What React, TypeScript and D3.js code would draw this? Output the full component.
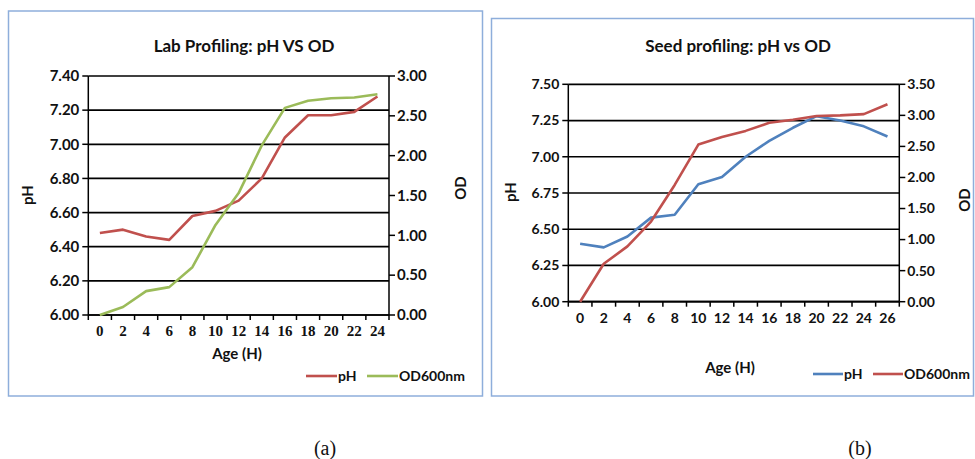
import React from "react";
import * as d3 from "d3";

// ---- Chart (a): Lab Profiling ----
const labAges = ["0", "2", "4", "6", "8", "10", "12", "14", "16", "18", "20", "22", "24"];
const labPH = [6.48, 6.5, 6.46, 6.44, 6.58, 6.61, 6.67, 6.8, 7.04, 7.17, 7.17, 7.19, 7.28];
const labOD = [0.0, 0.1, 0.3, 0.35, 0.6, 1.13, 1.53, 2.13, 2.6, 2.69, 2.72, 2.73, 2.77];
const labPHTicks = [6.0, 6.2, 6.4, 6.6, 6.8, 7.0, 7.2, 7.4];
const labODTicks = [0, 0.5, 1.0, 1.5, 2.0, 2.5, 3.0];

// ---- Chart (b): Seed profiling ----
const seedAges = ["0", "2", "4", "6", "8", "10", "12", "14", "16", "18", "20", "22", "24", "26"];
const seedPH = [6.4, 6.375, 6.45, 6.58, 6.6, 6.81, 6.86, 7.0, 7.11, 7.2, 7.28, 7.25, 7.21, 7.14];
const seedOD = [0.0, 0.61, 0.89, 1.29, 1.88, 2.53, 2.65, 2.75, 2.88, 2.93, 2.99, 3.0, 3.02, 3.18];
const seedPHTicks = [6.0, 6.25, 6.5, 6.75, 7.0, 7.25, 7.5];
const seedODTicks = [0, 0.5, 1.0, 1.5, 2.0, 2.5, 3.0, 3.5];

const RED = "#c0504d";
const GREEN = "#9bbb59";
const BLUE = "#4f81bd";
const FRAME = "#8eaedb";
const SANS = "Lato, 'Open Sans', sans-serif";

type ChartProps = {
  frame: [number, number, number, number];
  plot: { l: number; r: number; t: number; b: number };
  title: string;
  titleX: number;
  titleY: number;
  ages: string[];
  phVals: number[];
  odVals: number[];
  phTicks: number[];
  odTicks: number[];
  phColor: string;
  odColor: string;
  tickFont: number;
  xTickFont: string;
  xTickSize: number;
  ageLabel: { x: number; y: number };
  phLabel: { x: number; y: number };
  odLabel: { x: number; y: number };
  legend: { phX: number; odX: number; y: number; lineLen: number };
};

function Chart(p: ChartProps) {
  const { l, r, t, b } = p.plot;
  const x = d3.scaleBand<string>().domain(p.ages).range([l, r]).padding(0);
  const phExt = d3.extent(p.phTicks) as [number, number];
  const odExt = d3.extent(p.odTicks) as [number, number];
  const yL = d3.scaleLinear().domain(phExt).range([b, t]);
  const yR = d3.scaleLinear().domain(odExt).range([b, t]);
  const cx = (a: string) => (x(a) as number) + x.bandwidth() / 2;
  const phLine = d3
    .line<number>()
    .x((_, i) => cx(p.ages[i]))
    .y((d) => yL(d));
  const odLine = d3
    .line<number>()
    .x((_, i) => cx(p.ages[i]))
    .y((d) => yR(d));
  const boundaries = p.ages.map((a) => x(a) as number).concat([r]);
  const [fx, fy, fw, fh] = p.frame;
  const txt = { fontFamily: SANS, fontWeight: "bold" as const, fill: "#111" };
  return (
    <g>
      <rect x={fx} y={fy} width={fw} height={fh} fill="#fff" stroke={FRAME} strokeWidth={1.5} />
      <text x={p.titleX} y={p.titleY} textAnchor="middle" fontSize={17} {...txt}>
        {p.title}
      </text>
      {/* gridlines */}
      {p.phTicks.map((v) => (
        <line key={"g" + v} x1={l} x2={r} y1={yL(v)} y2={yL(v)} stroke="#000" strokeWidth={1.7} />
      ))}
      {/* axes */}
      <line x1={l} x2={l} y1={t} y2={b} stroke="#000" strokeWidth={1.5} />
      <line x1={r} x2={r} y1={t} y2={b} stroke="#000" strokeWidth={1.5} />
      <line x1={l} x2={r} y1={b} y2={b} stroke="#000" strokeWidth={1.7} />
      {p.phTicks.map((v) => (
        <g key={"lt" + v}>
          <line x1={l - 6} x2={l} y1={yL(v)} y2={yL(v)} stroke="#000" strokeWidth={1.5} />
          <text x={l - 9} y={yL(v)} dy="0.35em" textAnchor="end" fontSize={p.tickFont} {...txt}>
            {v.toFixed(2)}
          </text>
        </g>
      ))}
      {p.odTicks.map((v) => (
        <g key={"rt" + v}>
          <line x1={r} x2={r + 6} y1={yR(v)} y2={yR(v)} stroke="#000" strokeWidth={1.5} />
          <text x={r + 8} y={yR(v)} dy="0.35em" textAnchor="start" fontSize={p.tickFont} {...txt}>
            {v.toFixed(2)}
          </text>
        </g>
      ))}
      {boundaries.map((bx, i) => (
        <line key={"xt" + i} x1={bx} x2={bx} y1={b} y2={b + 5} stroke="#000" strokeWidth={1.5} />
      ))}
      {p.ages.map((a) => (
        <text
          key={"xl" + a}
          x={cx(a)}
          y={b + 21}
          textAnchor="middle"
          fontFamily={p.xTickFont}
          fontWeight="bold"
          fontSize={p.xTickSize}
          fill="#111"
        >
          {a}
        </text>
      ))}
      {/* series */}
      <path d={phLine(p.phVals) || ""} fill="none" stroke={p.phColor} strokeWidth={2.6} strokeLinejoin="round" />
      <path d={odLine(p.odVals) || ""} fill="none" stroke={p.odColor} strokeWidth={2.6} strokeLinejoin="round" />
      {/* axis titles */}
      <text x={p.ageLabel.x} y={p.ageLabel.y} textAnchor="middle" fontSize={15} {...txt}>
        Age (H)
      </text>
      <text
        transform={`translate(${p.phLabel.x},${p.phLabel.y}) rotate(-90)`}
        textAnchor="middle"
        dy="0.35em"
        fontSize={15}
        {...txt}
      >
        pH
      </text>
      <text
        transform={`translate(${p.odLabel.x},${p.odLabel.y}) rotate(-90)`}
        textAnchor="middle"
        dy="0.35em"
        fontSize={15}
        {...txt}
      >
        OD
      </text>
      {/* legend */}
      <line
        x1={p.legend.phX}
        x2={p.legend.phX + p.legend.lineLen}
        y1={p.legend.y}
        y2={p.legend.y}
        stroke={p.phColor}
        strokeWidth={2.6}
      />
      <text x={p.legend.phX + p.legend.lineLen + 1} y={p.legend.y} dy="0.35em" fontSize={14} {...txt}>
        pH
      </text>
      <line
        x1={p.legend.odX}
        x2={p.legend.odX + p.legend.lineLen}
        y1={p.legend.y}
        y2={p.legend.y}
        stroke={p.odColor}
        strokeWidth={2.6}
      />
      <text x={p.legend.odX + p.legend.lineLen + 1} y={p.legend.y} dy="0.35em" fontSize={14} {...txt}>
        OD600nm
      </text>
    </g>
  );
}

export default function App() {
  return (
    <svg
      width={975}
      height={459}
      style={{ position: "absolute", left: 0, top: 0, background: "#fff" }}
    >
      <rect x={0} y={0} width={975} height={459} fill="#fff" />
      <Chart
        frame={[8.5, 11, 474, 385]}
        plot={{ l: 88.3, r: 389, t: 76, b: 315 }}
        title="Lab Profiling: pH VS OD"
        titleX={244}
        titleY={52}
        ages={labAges}
        phVals={labPH}
        odVals={labOD}
        phTicks={labPHTicks}
        odTicks={labODTicks}
        phColor={RED}
        odColor={GREEN}
        tickFont={15}
        xTickFont="'Liberation Serif', serif"
        xTickSize={15}
        ageLabel={{ x: 237, y: 359 }}
        phLabel={{ x: 28, y: 195 }}
        odLabel={{ x: 461, y: 188 }}
        legend={{ phX: 306, odX: 367, y: 376, lineLen: 31 }}
      />
      <Chart
        frame={[491.5, 18.5, 482, 377.5]}
        plot={{ l: 568.3, r: 899.3, t: 84.3, b: 301.7 }}
        title="Seed profiling: pH vs OD"
        titleX={738}
        titleY={52}
        ages={seedAges}
        phVals={seedPH}
        odVals={seedOD}
        phTicks={seedPHTicks}
        odTicks={seedODTicks}
        phColor={BLUE}
        odColor={RED}
        tickFont={14}
        xTickFont={SANS}
        xTickSize={14}
        ageLabel={{ x: 730, y: 373 }}
        phLabel={{ x: 511, y: 192 }}
        odLabel={{ x: 965, y: 200 }}
        legend={{ phX: 813, odX: 873, y: 374, lineLen: 30 }}
      />
      <text x={325} y={455} textAnchor="middle" fontFamily="'Liberation Serif', serif" fontSize={20} fill="#111">
        (a)
      </text>
      <text x={860} y={455} textAnchor="middle" fontFamily="'Liberation Serif', serif" fontSize={20} fill="#111">
        (b)
      </text>
    </svg>
  );
}
